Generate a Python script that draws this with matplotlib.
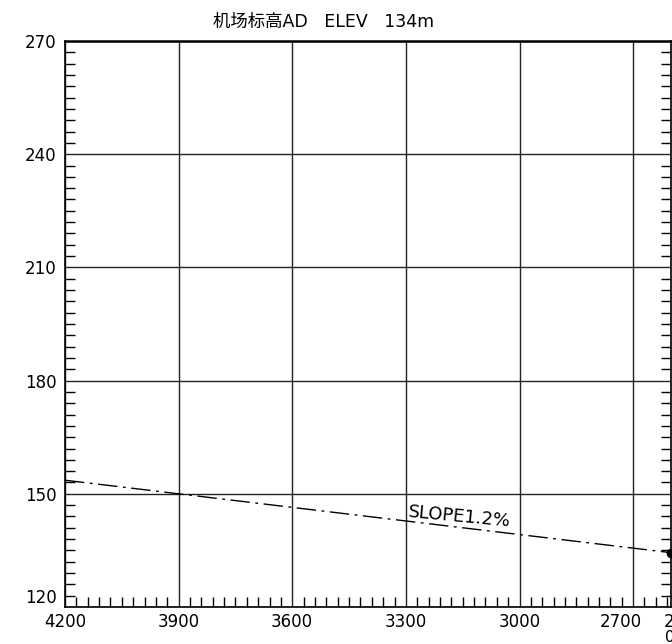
import numpy as np
import matplotlib.pyplot as plt
from matplotlib.ticker import MultipleLocator
from matplotlib.transforms import ScaledTranslation

# distance from threshold (m) and elevation (m)
x_ticks = [4200, 3900, 3600, 3300, 3000, 2700, 2600]
y_ticks = [120, 150, 180, 210, 240, 270]
slope_x = [4200, 2600]
slope_y = [153.6, 134.4]
end_pt = (2600, 134.4)
slope_label = 'SLOPE1.2%'
title = '机场标高AD   ELEV   134m'

plt.rcParams['font.family'] = ['DejaVu Sans', 'Noto Sans CJK SC']

fig = plt.figure(figsize=(6.72, 6.44), dpi=100)
ax = fig.add_axes([65/672, 37/644, 606/672, 566/644])

ax.set_xlim(4200, 2600)
ax.set_ylim(120, 270)
ax.set_xticks(x_ticks)
ax.set_yticks(y_ticks)
ax.xaxis.set_minor_locator(MultipleLocator(30))
ax.yaxis.set_minor_locator(MultipleLocator(3))
ax.tick_params(which='both', direction='in', colors='black',
               labelsize=12, width=1.0, right=True)
ax.tick_params(which='major', length=0)
ax.tick_params(which='minor', length=7)
ax.tick_params(axis='x', pad=4)
ax.tick_params(axis='y', pad=6)

px = lambda dx, dy: ScaledTranslation(dx / 100, dy / 100, fig.dpi_scale_trans)
fig.canvas.draw()
xl = ax.get_xticklabels()
for lab in xl:
    lab.set_clip_on(False)
xl[-2].set_transform(xl[-2].get_transform() + px(-12, 0))
xl[-1].set_horizontalalignment('left')
xl[-1].set_transform(xl[-1].get_transform() + px(-7, 0))
yl = ax.get_yticklabels()
yl[0].set_verticalalignment('bottom')

ax.grid(True, which='major', color='#222222', linewidth=1.0)
for s in ax.spines.values():
    s.set_linewidth(1.2)
ax.spines['top'].set_linewidth(1.8)

ax.plot(slope_x, slope_y, color='black', linewidth=1.0,
        dashes=[14, 4, 2, 4], clip_on=False)
ax.plot([end_pt[0]], [end_pt[1]], 'o', color='black', markersize=6, clip_on=False)

ax.text(3295, 143.9, slope_label, rotation=-5.4, ha='left', va='baseline',
        fontsize=13, rotation_mode='anchor')

fig.text(324/672, 1 - 22/644, title, ha='center', va='center', fontsize=12.5)
fig.text(665/672, 1 - 637/644, '0', ha='left', va='center', fontsize=11)

fig.savefig('out.png', dpi=100)
